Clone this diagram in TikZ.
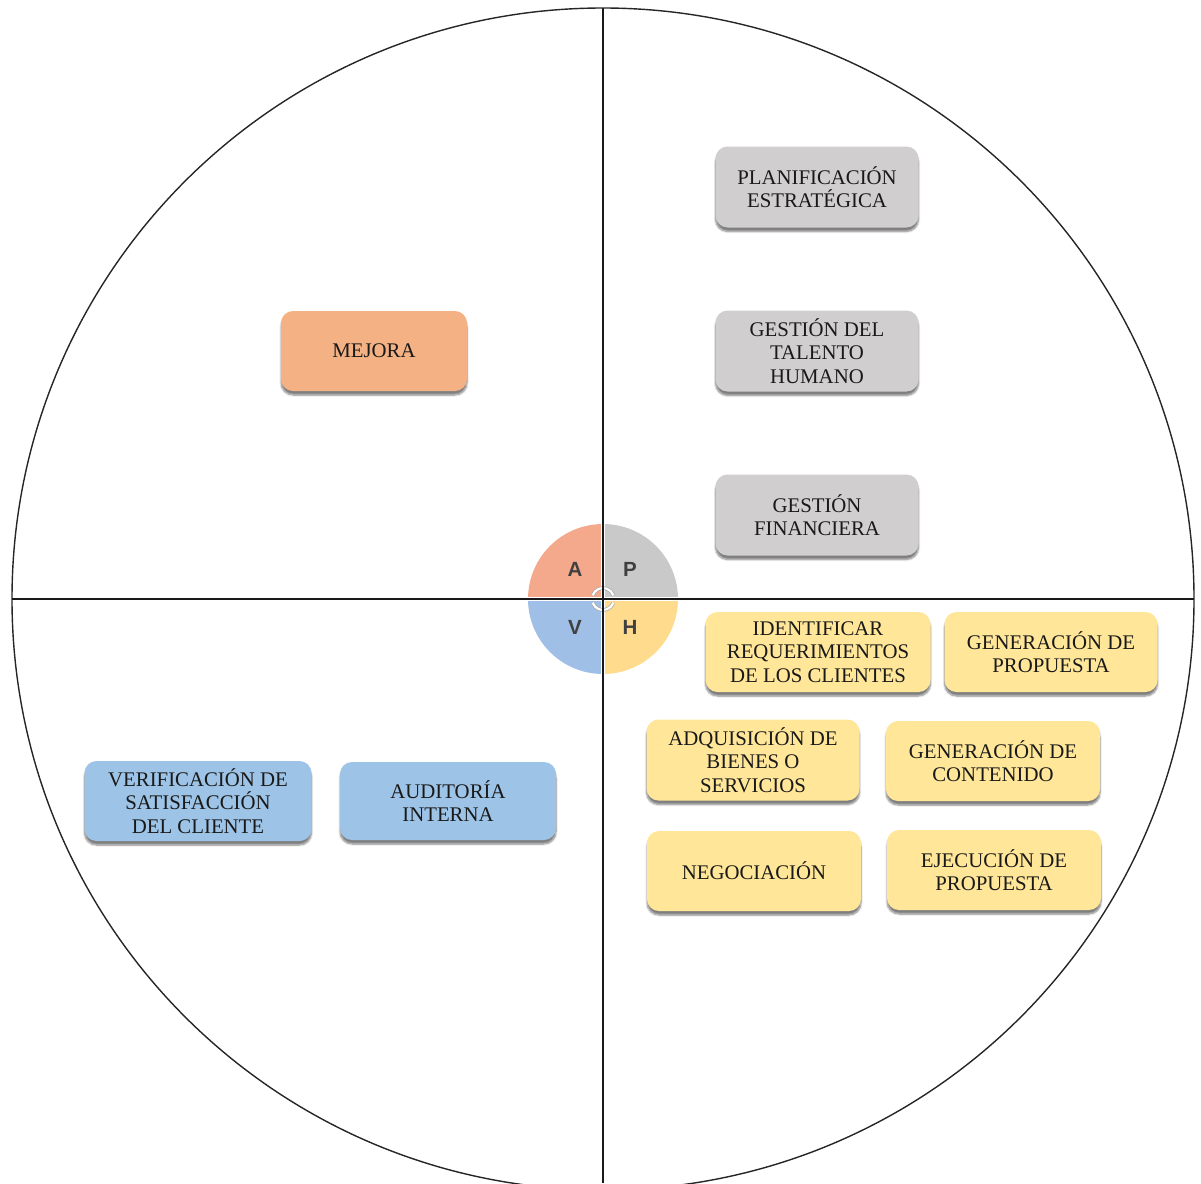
\documentclass[tikz,border=0pt]{standalone}
\usepackage{fontspec}
\setmainfont{Liberation Serif}
\newfontfamily\letterfont{Liberation Sans}
\usetikzlibrary{shadows.blur}
\definecolor{boxgray}{HTML}{D0CECE}
\definecolor{boxorange}{HTML}{F4B183}
\definecolor{boxyellow}{HTML}{FFE699}
\definecolor{boxblue}{HTML}{9DC3E6}
\definecolor{qA}{HTML}{F5A98C}
\definecolor{qP}{HTML}{C9C9C9}
\definecolor{qV}{HTML}{A0BFE6}
\definecolor{qH}{HTML}{FFDB8E}
\tikzset{
  procbox/.style={rounded corners=12pt, align=center, inner sep=2pt,
    font=\fontsize{20.8}{23.5}\selectfont, text=black!90,
    blur shadow={shadow xshift=0pt, shadow yshift=-4pt, shadow opacity=50, shadow blur steps=6}},
  plan/.style={procbox, fill=boxgray, minimum width=203pt, minimum height=81pt},
  act/.style={procbox, fill=boxorange, minimum width=186pt, minimum height=80pt},
  doit/.style={procbox, fill=boxyellow, minimum width=214pt, minimum height=80pt},
  check/.style={procbox, fill=boxblue, minimum height=80pt},
  quadletter/.style={font=\letterfont\bfseries\fontsize{20.5}{20.5}\selectfont, text=black!75}
}
\begin{document}
\begin{tikzpicture}[x=1pt,y=-1pt]
\useasboundingbox (0,0) rectangle (1201,1183);
% outer cycle and quadrant axes
\coordinate (c) at (603,599);
\draw[line width=1.4pt, black!85] (c) circle[radius=591];
\coordinate (top) at (603,8);
\coordinate (bottom) at (603,1183);
\coordinate (left) at (12,599);
\coordinate (right) at (1194,599);

% PHVA wheel in the centre
\begin{scope}
  \clip (528,524) rectangle (603,599);
  \fill[qA] (c) circle[radius=75];
\end{scope}
\begin{scope}
  \clip (603,524) rectangle (678,599);
  \fill[qP] (c) circle[radius=75];
\end{scope}
\begin{scope}
  \clip (528,599) rectangle (603,674);
  \fill[qV] (c) circle[radius=75];
\end{scope}
\begin{scope}
  \clip (603,599) rectangle (678,674);
  \fill[qH] (c) circle[radius=75];
\end{scope}
\draw[white, line width=4pt] (603,520) -- (603,678);
\draw[white, line width=4pt] (524,599) -- (682,599);
% circular arrows at the hub
\draw[black!35, line width=3.6pt] (c) ++(160:11) arc[start angle=160, end angle=20, radius=11];
\draw[white, line width=2.2pt] (c) ++(160:11) arc[start angle=160, end angle=20, radius=11];
\draw[black!35, line width=3.6pt] (c) ++(-160:11) arc[start angle=-160, end angle=-20, radius=11];
\draw[white, line width=2.2pt] (c) ++(-160:11) arc[start angle=-160, end angle=-20, radius=11];

\draw[line width=1.3pt, black!90] (top) -- (bottom);
\draw[line width=1.3pt, black!90] (left) -- (right);

\node[quadletter] (la) at (575,569) {A};
\node[quadletter] (lp) at (630,569) {P};
\node[quadletter] (lv) at (575,627) {V};
\node[quadletter] (lh) at (630,627) {H};

% planning
\node[plan] (plan1) at (817,187) {PLANIFICACIÓN\\ESTRATÉGICA};
\node[plan] (plan2) at (817,351) {GESTIÓN DEL\\TALENTO\\HUMANO};
\node[plan] (plan3) at (817,515) {GESTIÓN\\FINANCIERA};

% acting
\node[act] (act1) at (374,351) {MEJORA};

% doing
\node[doit, minimum width=225pt] (do1) at (818,652) {IDENTIFICAR\\REQUERIMIENTOS\\DE LOS CLIENTES};
\node[doit, minimum width=213pt] (do2) at (1051,652) {GENERACIÓN DE\\PROPUESTA};
\node[doit, minimum width=213pt, minimum height=81pt] (do3) at (753,760) {ADQUISICIÓN DE\\BIENES O\\SERVICIOS};
\node[doit] (do4) at (993,761) {GENERACIÓN DE\\CONTENIDO};
\node[doit] (do5) at (754,871) {NEGOCIACIÓN};
\node[doit] (do6) at (994,870) {EJECUCIÓN DE\\PROPUESTA};

% checking
\node[check, minimum width=227pt] (chk1) at (198,801) {VERIFICACIÓN DE\\SATISFACCIÓN\\DEL CLIENTE};
\node[check, minimum width=216pt, minimum height=78pt] (chk2) at (448,801) {AUDITORÍA\\INTERNA};
\end{tikzpicture}
\end{document}
